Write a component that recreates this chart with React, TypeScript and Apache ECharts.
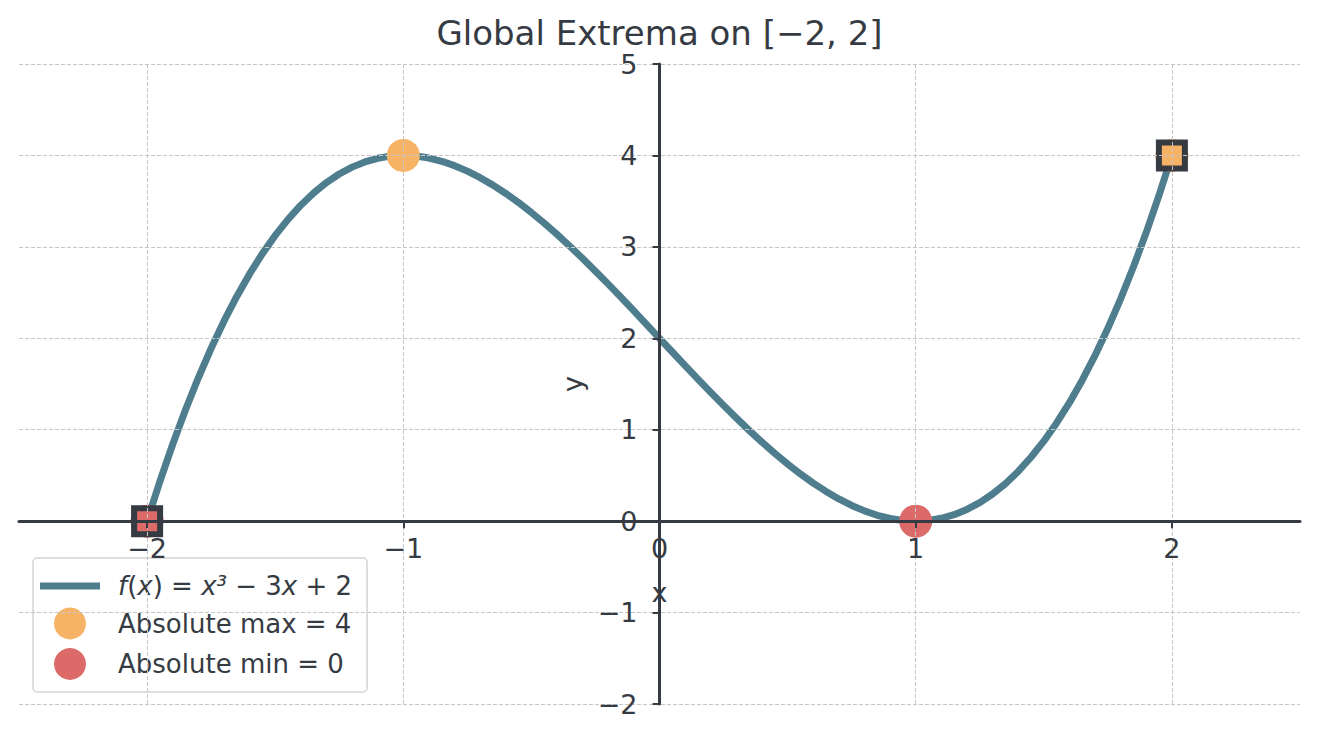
import React, { useEffect, useRef } from "react";
import * as echarts from "echarts";

const curveX = [
  -2.0, -1.95, -1.9, -1.85, -1.8, -1.75, -1.7, -1.65, -1.6, -1.55, -1.5, -1.45, -1.4, -1.35, -1.3, -1.25, -1.2, -1.15, -1.1, -1.05,
  -1.0, -0.95, -0.9, -0.85, -0.8, -0.75, -0.7, -0.65, -0.6, -0.55, -0.5, -0.45, -0.4, -0.35, -0.3, -0.25, -0.2, -0.15, -0.1, -0.05,
  0.0, 0.05, 0.1, 0.15, 0.2, 0.25, 0.3, 0.35, 0.4, 0.45, 0.5, 0.55, 0.6, 0.65, 0.7, 0.75, 0.8, 0.85, 0.9, 0.95,
  1.0, 1.05, 1.1, 1.15, 1.2, 1.25, 1.3, 1.35, 1.4, 1.45, 1.5, 1.55, 1.6, 1.65, 1.7, 1.75, 1.8, 1.85, 1.9, 1.95, 2.0,
];
const curveY = [
  0.0, 0.435, 0.841, 1.218, 1.568, 1.891, 2.187, 2.458, 2.704, 2.926, 3.125, 3.301, 3.456, 3.59, 3.703, 3.797, 3.872, 3.929, 3.969, 3.992,
  4.0, 3.993, 3.971, 3.936, 3.888, 3.828, 3.757, 3.675, 3.584, 3.484, 3.375, 3.259, 3.136, 3.007, 2.873, 2.734, 2.592, 2.447, 2.299, 2.15,
  2.0, 1.85, 1.701, 1.553, 1.408, 1.266, 1.127, 0.993, 0.864, 0.741, 0.625, 0.516, 0.416, 0.325, 0.243, 0.172, 0.112, 0.064, 0.029, 0.007,
  0.0, 0.008, 0.031, 0.071, 0.128, 0.203, 0.297, 0.41, 0.544, 0.699, 0.875, 1.074, 1.296, 1.542, 1.813, 2.109, 2.432, 2.782, 3.159, 3.565, 4.0,
];
const maxPoints = [[-1, 4], [2, 4]];
const minPoints = [[1, 0], [-2, 0]];
const endpointMin = [[-2, 0]];
const endpointMax = [[2, 4]];
const xTicks = [-2, -1, 0, 1, 2];
const xRange = [-2.5, 2.5];
const yRange = [-2, 5];

const curveName = "f(x) = x³ − 3x + 2";
const maxName = "Absolute max = 4";
const minName = "Absolute min = 0";
const titleText = "Global Extrema on [−2, 2]";

const DARK = "#363b43";
const CURVE = "#4e7d8e";
const ORANGE = "#f6b265";
const RED = "#db6a68";
const FONT = "DejaVu Sans";

const W = 1319;
const H = 740;
const G = { left: 19, right: 19, top: 64, bottom: 36 };

const fmt = (v: number) => (v < 0 ? "−" + Math.abs(v) : String(v));

export default function App() {
  const ref = useRef<HTMLDivElement>(null);
  useEffect(() => {
    const chart = echarts.init(ref.current!, null, { renderer: "svg" });
    const gridW = W - G.left - G.right;
    const gridH = H - G.top - G.bottom;
    // put the axes through the origin (spines at zero)
    const xAxisOffset = -gridH * (0 - yRange[0]) / (yRange[1] - yRange[0]);
    const yAxisOffset = -gridW * (0 - xRange[0]) / (xRange[1] - xRange[0]);
    const gridLine = { show: true, lineStyle: { color: "#c6c6c6", width: 1, type: [4, 2] as any } };
    chart.setOption({
      animation: false,
      textStyle: { fontFamily: FONT },
      title: {
        text: titleText,
        left: "center",
        top: 18,
        padding: 0,
        textStyle: { fontFamily: FONT, fontSize: 34, lineHeight: 30, fontWeight: "normal", color: DARK },
      },
      grid: { ...G, containLabel: false, outerBoundsMode: "none" },
      legend: {
        left: 33,
        top: 558,
        orient: "vertical",
        selectedMode: false,
        itemWidth: 60,
        itemHeight: 32,
        itemGap: 8.5,
        symbolKeepAspect: true,
        padding: [15, 15, 12, 7],
        backgroundColor: "rgba(255,255,255,0.8)",
        borderColor: "#d3d3d3",
        borderWidth: 1.5,
        borderRadius: 4,
        data: [
          { name: curveName, icon: "path://M0 0H60V7H0Z" },
          { name: maxName, icon: "circle" },
          { name: minName, icon: "circle" },
        ],
        formatter: (name: string) =>
          name === curveName
            ? "{i|f}{n|(}{i|x}{n|) = }{i|x³}{n| − 3}{i|x}{n| + 2}"
            : "{n|" + name + "}",
        textStyle: {
          color: DARK,
          fontSize: 26,
          fontFamily: FONT,
          padding: [0, 0, 0, 13],
          rich: {
            n: { fontSize: 26, fontFamily: FONT, color: DARK },
            i: { fontSize: 26, fontFamily: FONT, color: DARK, fontStyle: "italic" },
          },
        },
      },
      xAxis: {
        type: "value",
        min: xRange[0],
        max: xRange[1],
        z: 5,
        offset: xAxisOffset,
        name: "x",
        nameLocation: "middle",
        nameGap: 58,
        nameTextStyle: { fontSize: 27, color: DARK, fontFamily: FONT },
        axisLine: { onZero: false, lineStyle: { color: DARK, width: 3 } },
        axisTick: { show: true, length: 7, customValues: xTicks, lineStyle: { color: DARK, width: 2 } },
        axisLabel: { customValues: xTicks, formatter: fmt, fontSize: 27, color: DARK, margin: 14, fontFamily: FONT },
        splitLine: gridLine,
      },
      yAxis: {
        type: "value",
        min: yRange[0],
        max: yRange[1],
        interval: 1,
        z: 5,
        offset: yAxisOffset,
        name: "y",
        nameLocation: "middle",
        nameGap: 74,
        nameRotate: 90,
        nameTextStyle: { fontSize: 27, color: DARK, fontFamily: FONT },
        axisLine: { onZero: false, lineStyle: { color: DARK, width: 3 } },
        axisTick: { show: true, length: 7, lineStyle: { color: DARK, width: 2 } },
        axisLabel: { formatter: fmt, fontSize: 27, lineHeight: 22, color: DARK, margin: 22, fontFamily: FONT },
        splitLine: gridLine,
      },
      series: [
        {
          name: curveName,
          type: "line",
          data: curveX.map((x, i) => [x, curveY[i]]),
          smooth: false,
          showSymbol: false,
          symbol: "none",
          color: CURVE,
          lineStyle: { color: CURVE, width: 7, join: "round" },
          z: 2,
        },
        {
          name: maxName,
          type: "scatter",
          data: maxPoints,
          symbol: "circle",
          symbolSize: 33,
          itemStyle: { color: ORANGE, opacity: 1 },
          z: 3,
        },
        {
          name: minName,
          type: "scatter",
          data: minPoints,
          symbol: "circle",
          symbolSize: 33,
          itemStyle: { color: RED, opacity: 1 },
          z: 3,
        },
        {
          name: "endpoint-min",
          type: "scatter",
          data: endpointMin,
          symbol: "rect",
          symbolSize: 26,
          itemStyle: { color: RED, borderColor: DARK, borderWidth: 6, opacity: 1 },
          z: 4,
        },
        {
          name: "endpoint-max",
          type: "scatter",
          data: endpointMax,
          symbol: "rect",
          symbolSize: 26,
          itemStyle: { color: ORANGE, borderColor: DARK, borderWidth: 6, opacity: 1 },
          z: 4,
        },
      ],
    });
    return () => chart.dispose();
  }, []);
  return (
    <div
      ref={ref}
      style={{ position: "fixed", left: 0, top: 0, width: W, height: H, background: "#fff" }}
    />
  );
}
